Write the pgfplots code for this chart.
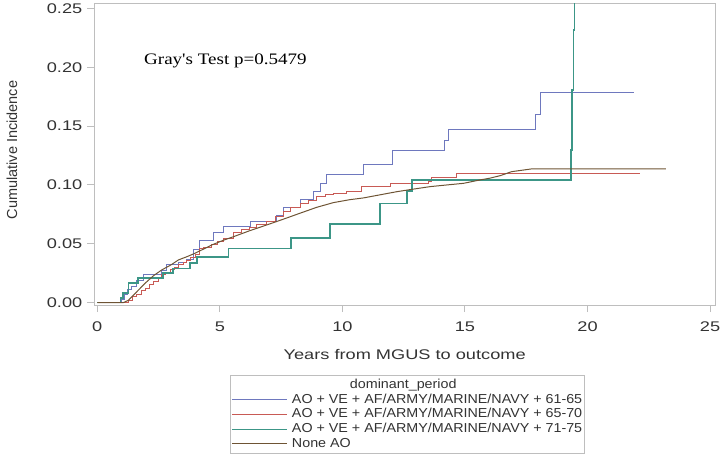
\documentclass[border=0pt]{standalone}
\usepackage{pgfplots}
\pgfplotsset{compat=1.18}
\usepackage{fontspec}
\setmainfont{Liberation Sans}
\newfontfamily\tickfont[FakeStretch=1.3]{Liberation Sans}
\newfontfamily\legfont[FakeStretch=1.1]{Liberation Sans}
\newfontfamily\grayfont[FakeStretch=1.19]{Liberation Serif}

\definecolor{cBlue}{HTML}{6E78BE}
\definecolor{cRed}{HTML}{C85A55}
\definecolor{cTeal}{HTML}{3C9687}
\definecolor{cBrown}{HTML}{6E5434}
\definecolor{cFrame}{HTML}{BEBEBE}
\definecolor{cText}{HTML}{333333}

\begin{document}
\begin{tikzpicture}
\path[use as bounding box] (0,0) rectangle (720bp,454bp);
\begin{axis}[
    at={(94.3bp,149bp)}, anchor=south west,
    scale only axis,
    width=620.7bp, height=301bp,
    xmin=-0.122, xmax=25.2,
    ymin=-0.002, ymax=0.2538,
    xtick={0,5,...,25},
    ytick={0,0.05,...,0.25},
    tick align=outside,
    tick pos=left,
    major tick length=7bp,
    axis line style={cFrame, line width=1bp},
    every tick/.style={cFrame, line width=1bp},
    /pgf/number format/assume math mode=true,
    ticklabel style={font=\tickfont\fontsize{14bp}{16bp}\selectfont, text=cText},
    xticklabel style={yshift=-6bp},
    yticklabel style={xshift=-1.5bp, /pgf/number format/.cd, fixed, fixed zerofill, precision=2},
    xlabel={Years from MGUS to outcome},
    xlabel style={font=\tickfont\fontsize{14bp}{16bp}\selectfont, text=cText,
        at={(axis description cs:0.5,-0.166)}, anchor=center},
    ylabel={Cumulative Incidence},
    ylabel style={font=\fontsize{14.5bp}{16bp}\selectfont, text=cText,
        at={(axis description cs:-0.1326,0.515)}, anchor=center, rotate=0},
    legend image code/.code={\draw[#1, line width=1.1bp] (0bp,0bp) -- (55bp,0bp);},
    legend cell align=left,
    legend style={
        at={(axis description cs:0.2186,-0.2326)}, anchor=north west,
        draw=cFrame,
        inner xsep=1.7bp, inner ysep=3bp,
        row sep=1.8bp,
        font=\legfont\fontsize{13bp}{15bp}\selectfont, text=cText,
        nodes={inner sep=0bp, text height=10bp, text depth=3bp},
        /tikz/every odd column/.append style={column sep=4bp},
    },
]
\addlegendimage{empty legend}
\addlegendentry{\hspace*{58bp}dominant\_period}

% 61-65
\addplot[cBlue, line width=1bp, const plot] coordinates {
(0,0) (1.0,0.003) (1.1,0.007) (1.25,0.011) (1.4,0.0136) (1.6,0.019)
(1.88,0.0235) (2.6,0.027) (2.83,0.032) (3.3,0.034) (3.65,0.037)
(3.92,0.045) (4.19,0.053) (4.73,0.060) (5.14,0.0646) (6.23,0.069)
(7.3,0.074) (7.59,0.081) (8.27,0.0873) (8.8,0.0943) (9.09,0.1014)
(9.36,0.1085) (10.86,0.1178) (12.04,0.1289) (14.15,0.138) (14.34,0.1473)
(17.89,0.16) (18.08,0.1784) (21.9,0.1784)
};
\addlegendentry{AO + VE + AF/ARMY/MARINE/NAVY + 61-65}

% 65-70
\addplot[cRed, line width=1bp, const plot] coordinates {
(0,0) (1.0,0.0005) (1.27,0.002) (1.45,0.005) (1.6,0.007) (1.8,0.010)
(1.95,0.012) (2.15,0.015) (2.3,0.018) (2.5,0.021) (2.63,0.0235)
(2.8,0.026) (3.0,0.028) (3.15,0.030) (3.31,0.032) (3.5,0.034)
(3.65,0.036) (3.8,0.038) (3.99,0.0405) (4.19,0.046) (4.33,0.047)
(4.67,0.049) (4.9,0.052) (5.14,0.0547) (5.55,0.060) (5.9,0.062)
(6.2,0.064) (6.5,0.066) (6.91,0.069) (7.25,0.073) (7.59,0.0773)
(7.9,0.081) (8.27,0.0845) (8.6,0.087) (8.95,0.090) (9.3,0.0915)
(9.63,0.0925) (10.18,0.0943) (10.79,0.0986) (11.95,0.1014) (13.51,0.1028)
(13.65,0.1062) (14.64,0.1099) (22.15,0.1099)
};
\addlegendentry{AO + VE + AF/ARMY/MARINE/NAVY + 65-70}

% 71-75
\addplot[cTeal, line width=1.6bp, const plot] coordinates {
(0,0) (0.95,0.004) (1.06,0.008) (1.27,0.0165) (1.67,0.0207)
(2.69,0.025) (3.1,0.029) (3.78,0.0335) (4.06,0.039) (5.35,0.046)
(7.9,0.0547) (9.5,0.0669) (11.54,0.0843) (12.63,0.095) (12.85,0.1043)
(19.32,0.1297) (19.37,0.1806) (19.42,0.2317) (19.46,0.30)
};
\addlegendentry{AO + VE + AF/ARMY/MARINE/NAVY + 71-75}

% None AO
\addplot[cBrown, line width=1bp] coordinates {
(0,0) (1.06,0) (1.27,0.002) (1.6,0.009) (1.95,0.0165) (2.3,0.023)
(2.63,0.0278) (3.0,0.032) (3.31,0.0363) (3.65,0.039) (3.99,0.042)
(4.33,0.0455) (4.67,0.049) (5.14,0.053) (5.55,0.056) (6.2,0.061)
(6.91,0.066) (7.6,0.071) (8.27,0.076) (8.95,0.081) (9.63,0.085)
(10.3,0.0875) (10.86,0.089) (11.5,0.0915) (12.22,0.0943) (12.9,0.0965)
(13.58,0.0986) (14.25,0.1) (14.94,0.1014) (15.62,0.1043) (16.0,0.1057)
(16.45,0.108) (16.9,0.1113) (17.7,0.1136) (23.2,0.1136)
};
\addlegendentry{None AO}

\node[anchor=base west, inner sep=0bp, font=\grayfont\fontsize{16bp}{18bp}\selectfont]
    at (axis cs:1.905,0.2028) {Gray's Test p=0.5479};
\end{axis}
\end{tikzpicture}
\end{document}
